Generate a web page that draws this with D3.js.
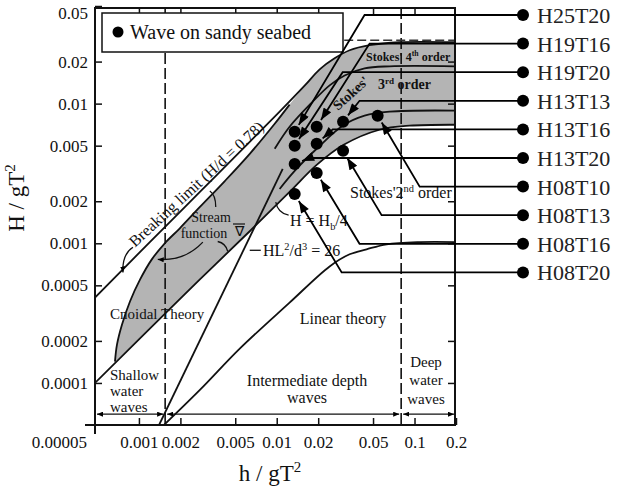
<!DOCTYPE html>
<html>
<head>
<meta charset="utf-8">
<script src="https://cdn.jsdelivr.net/npm/d3@7"></script>
<style>
  body { margin: 0; background: #fff; }
  svg { font-family: "Liberation Serif", "Times New Roman", serif; }
</style>
</head>
<body>
<div id="chart"></div>
<script>
// axis ticks
const xTicks = [0.001, 0.002, 0.005, 0.01, 0.02, 0.05, 0.1, 0.2];
const yTicks = [0.00005, 0.0001, 0.0002, 0.0005, 0.001, 0.002, 0.005, 0.01, 0.02, 0.05];

// theory limits as [h/gT², H/gT²]
const breakingLimit = [[0.00048, 0.000409], [0.0012, 0.00102], [0.00277, 0.00233], [0.00637, 0.00533],
  [0.0105, 0.00876], [0.016, 0.0135], [0.0205, 0.0176], [0.0263, 0.0211], [0.0338, 0.0241],
  [0.0472, 0.0262], [0.0778, 0.0275], [0.2, 0.0275]];
const quarterBreaking = [[0.00048, 0.0001], [0.0012, 0.000245], [0.00277, 0.000551], [0.00637, 0.00122],
  [0.0124, 0.00233], [0.0195, 0.00364], [0.0306, 0.00507], [0.0557, 0.0065], [0.092, 0.00695], [0.2, 0.00706]];
const cnoidalLimit = [[0.00067, 0.000142], [0.000693, 0.000188], [0.000753, 0.000261], [0.000861, 0.000383],
  [0.00102, 0.000551], [0.00124, 0.000767], [0.00154, 0.001], [0.00198, 0.00128], [0.00277, 0.00182],
  [0.0042, 0.00279], [0.00637, 0.00437], [0.00967, 0.00718], [0.0124, 0.00984]];
const stokes4Limit = [[0.00967, 0.00475], [0.0124, 0.00683], [0.0182, 0.0103], [0.0242, 0.0135],
  [0.0311, 0.0159], [0.0434, 0.0179], [0.0659, 0.0185], [0.2, 0.0185]];
const stokes3Limit = [[0.0105, 0.00245], [0.0135, 0.0033], [0.0195, 0.00475], [0.0301, 0.00695],
  [0.0434, 0.0082], [0.0659, 0.00876], [0.2, 0.00891]];
const linearLimit = [[0.00152, 0.00005], [0.00277, 0.0000891], [0.00539, 0.000176], [0.0124, 0.000376],
  [0.0242, 0.000683], [0.0338, 0.000834], [0.0449, 0.000906], [0.0627, 0.000984], [0.109, 0.00102], [0.2, 0.00102]];
const ursellLimit = [[0.0014, 0.00005], [0.01105, 0.00341]];
const depthLimits = [0.00155, 0.08];
const deepBreaking = [[0.02, 0.0284], [0.2, 0.0284]];
const depthBands = [[0.00048, 0.00155], [0.00155, 0.08], [0.08, 0.2]];
const depthBandLevel = 0.0000598;

// test cases
const caseNames = ["H25T20", "H19T16", "H19T20", "H13T13", "H13T16", "H13T20", "H08T10", "H08T13", "H08T16", "H08T20"];
const caseDepth = [0.0135, 0.0195, 0.0135, 0.0303, 0.0195, 0.0135, 0.054, 0.0303, 0.0195, 0.0135];
const caseSteepness = [0.00629, 0.00683, 0.00499, 0.00743, 0.00516, 0.0037, 0.0082, 0.00459, 0.00319, 0.00225];
const leaderBend = [0.0434, 0.0472, 0.0301, 0.0399, 0.0255, 0.0173, 0.109, 0.0577, 0.0399, 0.0296];

// little curved pointers in the diagram: [from, control, to]
const pointerArcs = [
  [[0.00291, 0.00102], [0.00215, 0.000742], [0.00137, 0.000767]],
  [[0.000905, 0.000936], [0.000753, 0.000834], [0.000766, 0.000618]],
  [[0.00373, 0.00103], [0.00427, 0.001], [0.00441, 0.000876]],
  [[0.00327, 0.00237], [0.00361, 0.00222], [0.00361, 0.00182]],
  [[0.0122, 0.00159], [0.0102, 0.00164], [0.00984, 0.00197]]
];
const ursellPointer = [[0.00637, 0.000891], [0.00766, 0.000891]];

const width = 621, height = 492;
const pLeft = 95, pRight = 455, pTop = 8, pBottom = 425;

const x = d3.scaleLog().domain([0.00048, 0.2]).range([95, 456]);
const y = d3.scaleLog().domain([0.00005, 0.05]).range([425, 6]);

const svg = d3.select("#chart").append("svg")
  .attr("width", width).attr("height", height)
  .attr("viewBox", [0, 0, width, height]);

const defs = svg.append("defs");
defs.append("clipPath").attr("id", "plot")
  .append("rect").attr("x", pLeft).attr("y", pTop).attr("width", pRight - pLeft).attr("height", pBottom - pTop);
defs.append("marker").attr("id", "arrow")
  .attr("viewBox", "0 0 12 9").attr("refX", 12).attr("refY", 4.5)
  .attr("markerWidth", 13).attr("markerHeight", 9).attr("markerUnits", "userSpaceOnUse")
  .attr("orient", "auto")
  .append("path").attr("d", "M0,0L12,4.5L0,9Z").attr("fill", "#000");
defs.append("marker").attr("id", "tiny")
  .attr("viewBox", "0 0 6 5").attr("refX", 6).attr("refY", 2.5)
  .attr("markerWidth", 6).attr("markerHeight", 5).attr("markerUnits", "userSpaceOnUse")
  .attr("orient", "auto-start-reverse")
  .append("path").attr("d", "M0,0L6,2.5L0,5Z").attr("fill", "#000");

const line = d3.line().x(d => x(d[0])).y(d => y(d[1])).curve(d3.curveCatmullRom.alpha(0.5));
const plot = svg.append("g").attr("clip-path", "url(#plot)");

// shaded band between the cnoidal / breaking limit and H = Hb/4
const upper = cnoidalLimit.concat(breakingLimit.filter(d => d[0] > cnoidalLimit[cnoidalLimit.length - 1][0]));
const lowerBack = quarterBreaking.filter(d => d[0] > cnoidalLimit[0][0]).reverse();
plot.append("path")
  .attr("d", line(upper) + "L" + line(lowerBack).slice(1) + "Z")
  .attr("fill", "#b4b4b4");

// dashed depth limits
plot.selectAll(".depth").data(depthLimits).join("line")
  .attr("x1", d => x(d)).attr("x2", d => x(d))
  .attr("y1", pTop).attr("y2", pBottom)
  .attr("stroke", "#111").attr("stroke-width", 1.6).attr("stroke-dasharray", "11,4");
plot.append("path").attr("d", d3.line().x(d => x(d[0])).y(d => y(d[1]))(deepBreaking))
  .attr("stroke", "#333").attr("stroke-width", 1.4).attr("stroke-dasharray", "9,4").attr("fill", "none");

// theory curves
plot.selectAll(".curve")
  .data([breakingLimit, quarterBreaking, cnoidalLimit, stokes4Limit, stokes3Limit, linearLimit, ursellLimit])
  .join("path")
  .attr("d", line)
  .attr("fill", "none").attr("stroke", "#111").attr("stroke-width", 1.8);

// depth band arrows along the bottom
plot.selectAll(".band").data(depthBands).join("line")
  .attr("x1", d => x(d[0]) + 2).attr("x2", d => x(d[1]) - 2)
  .attr("y1", y(depthBandLevel)).attr("y2", y(depthBandLevel))
  .attr("stroke", "#111").attr("stroke-width", 1.3)
  .attr("marker-start", "url(#tiny)").attr("marker-end", "url(#tiny)");

// curved pointers
const quad = a => `M${x(a[0][0])},${y(a[0][1])}Q${x(a[1][0])},${y(a[1][1])} ${x(a[2][0])},${y(a[2][1])}`;
plot.selectAll(".arc").data(pointerArcs).join("path")
  .attr("d", quad)
  .attr("fill", "none").attr("stroke", "#111").attr("stroke-width", 1.3)
  .attr("marker-end", (d, i) => i < 2 ? "url(#tiny)" : null);
plot.append("path").attr("d", d3.line().x(d => x(d[0])).y(d => y(d[1]))(ursellPointer))
  .attr("stroke", "#111").attr("stroke-width", 1.3);

// text helper with super/subscripts
function rich(g, px, py, parts, size) {
  const t = g.append("text").attr("x", px).attr("y", py).attr("font-size", size).attr("fill", "#111");
  let shift = 0;
  parts.forEach(([s, kind]) => {
    const target = kind === "sup" ? -0.38 * size : kind === "sub" ? 0.25 * size : 0;
    const ts = t.append("tspan").text(s).attr("dy", target - shift);
    if (kind) ts.attr("font-size", size * 0.65);
    shift = target;
  });
  return t;
}

const notes = svg.append("g");
rich(notes, 0, 0, [["Breaking limit (H/d = 0.78)"]], 16)
  .attr("text-anchor", "middle").attr("transform", "translate(200,188) rotate(-42.6)");
rich(notes, 110, 319, [["Cnoidal Theory"]], 15);
rich(notes, 211, 222, [["Stream"]], 14).attr("text-anchor", "middle");
rich(notes, 204, 238, [["function"]], 14).attr("text-anchor", "middle");
rich(notes, 239, 236, [["\u2207"]], 14).attr("text-anchor", "middle");
notes.append("line").attr("x1", 233).attr("x2", 245).attr("y1", 224).attr("y2", 224).attr("stroke", "#111").attr("stroke-width", 1.2);
rich(notes, 290, 226, [["H = H"], ["b", "sub"], ["/4"]], 16);
rich(notes, 263, 256, [["HL"], ["2", "sup"], ["/d"], ["3", "sup"], [" = 26"]], 16);
rich(notes, 350, 198, [["Stokes'2"], ["nd", "sup"], [" order"]], 16);
rich(notes, 343, 324, [["Linear theory"]], 16).attr("text-anchor", "middle");
rich(notes, 110, 380, [["Shallow"]], 15);
rich(notes, 110, 396, [["water"]], 15);
rich(notes, 110, 412, [["waves"]], 15);
rich(notes, 307, 386, [["Intermediate depth"]], 16).attr("text-anchor", "middle");
rich(notes, 307, 403, [["waves"]], 16).attr("text-anchor", "middle");
rich(notes, 426, 367, [["Deep"]], 15).attr("text-anchor", "middle");
rich(notes, 426, 385, [["water"]], 15).attr("text-anchor", "middle");
rich(notes, 426, 404, [["waves"]], 15).attr("text-anchor", "middle");
rich(notes, 366, 61, [["Stokes' 4"], ["th", "sup"], [" order"]], 12).attr("font-weight", "bold");
rich(notes, 0, 0, [["Stokes'"]], 14).attr("font-weight", "bold").attr("transform", "translate(338,111) rotate(-42)");
rich(notes, 378, 89, [["3"], ["rd", "sup"], ["  order"]], 14).attr("font-weight", "bold");

// axes
const fmt = d => String(d);
const xAxis = svg.append("g").attr("transform", `translate(0,${pBottom})`)
  .call(d3.axisBottom(x).tickValues(xTicks).tickSize(-7).tickPadding(11).tickFormat(fmt));
const yAxis = svg.append("g").attr("transform", `translate(${pLeft},0)`)
  .call(d3.axisLeft(y).tickValues(yTicks).tickSize(-7).tickPadding(7).tickFormat(fmt));
svg.append("g").attr("transform", `translate(${pRight},0)`)
  .call(d3.axisRight(y).tickValues(yTicks.slice(1, -1)).tickSize(-7).tickFormat(""));
svg.append("g").attr("transform", `translate(0,${pTop})`)
  .call(d3.axisTop(x).tickValues(xTicks.slice(0, -1)).tickSize(-7).tickFormat(""));
svg.selectAll(".domain").remove();
svg.selectAll(".tick line").attr("stroke", "#111").attr("stroke-width", 1.5);
svg.selectAll(".tick text").attr("font-size", 17).attr("font-family", "Liberation Serif, serif").attr("fill", "#111");
yAxis.selectAll(".tick").filter(d => d === 0.05).select("text").attr("y", 7);
yAxis.selectAll(".tick").filter(d => d === 0.00005).call(t => {
  t.select("line").remove();
  t.select("text").attr("x", -8).attr("y", 17);
});

// frame
svg.append("rect").attr("x", pLeft).attr("y", pTop).attr("width", pRight - pLeft).attr("height", pBottom - pTop)
  .attr("fill", "none").attr("stroke", "#111").attr("stroke-width", 2);
svg.append("line").attr("x1", pLeft).attr("x2", pLeft).attr("y1", pBottom).attr("y2", pBottom + 9)
  .attr("stroke", "#111").attr("stroke-width", 2);
svg.append("line").attr("x1", pLeft - 10).attr("x2", pLeft).attr("y1", pBottom).attr("y2", pBottom)
  .attr("stroke", "#111").attr("stroke-width", 2);

// axis titles
rich(svg, 0, 0, [["H / gT"], ["2", "sup"]], 23).attr("text-anchor", "middle")
  .attr("transform", "translate(24,198) rotate(-90)");
rich(svg, 270, 481, [["h / gT"], ["2", "sup"]], 23).attr("text-anchor", "middle");

// legend box
const legend = svg.append("g");
legend.append("rect").attr("x", 102).attr("y", 13).attr("width", 241).attr("height", 39)
  .attr("fill", "#fff").attr("stroke", "#111").attr("stroke-width", 1.5);
legend.append("circle").attr("cx", 118).attr("cy", 32).attr("r", 5.5).attr("fill", "#000");
rich(legend, 130, 39, [["Wave on sandy seabed"]], 20);

// cases with leaders to the label column
const cases = caseNames.map((name, i) => ({ name, h: caseDepth[i], s: caseSteepness[i], bend: leaderBend[i], i }));
const labelX = 523, labelY = i => 15 + i * 28.6;

svg.append("g").selectAll("path").data(cases).join("path")
  .attr("d", d => {
    const cx = x(d.h), cy = y(d.s), bx = x(d.bend), by = labelY(d.i);
    const len = Math.hypot(bx - cx, by - cy);
    const tx = cx + (bx - cx) / len * 8, ty = cy + (by - cy) / len * 8;
    return `M${labelX},${by}H${bx}L${tx},${ty}`;
  })
  .attr("fill", "none").attr("stroke", "#000").attr("stroke-width", 1.8)
  .attr("marker-end", "url(#arrow)");

svg.append("g").selectAll("circle").data(cases).join("circle")
  .attr("cx", d => x(d.h)).attr("cy", d => y(d.s)).attr("r", 6).attr("fill", "#000");

const labels = svg.append("g").selectAll("g").data(cases).join("g")
  .attr("transform", d => `translate(${labelX},${labelY(d.i)})`);
labels.append("circle").attr("r", 6).attr("fill", "#000");
labels.append("text").attr("x", 14).attr("y", 8).attr("font-size", 22).attr("fill", "#222").text(d => d.name);
</script>
</body>
</html>
